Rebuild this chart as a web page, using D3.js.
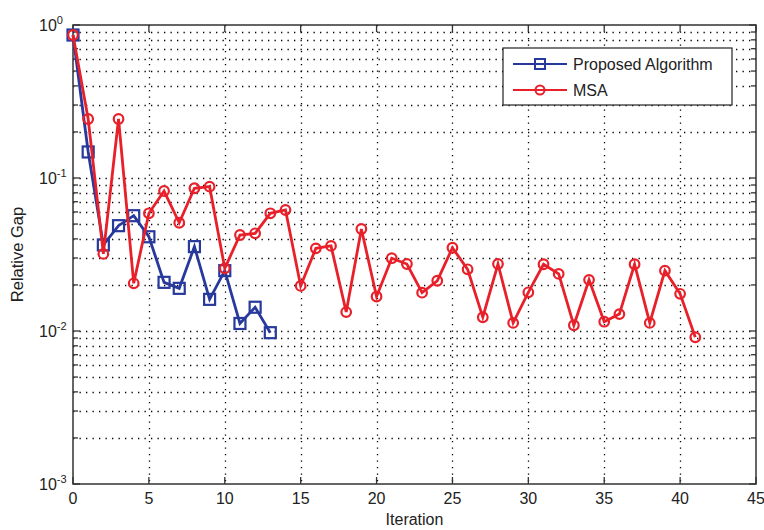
<!DOCTYPE html>
<html>
<meta charset="utf-8">
<script src="https://d3js.org/d3.v7.min.js"></script>
<style>
  body { margin: 0; background: #fff; }
  text { font-family: "Liberation Sans", Arial, sans-serif; fill: #222; }
</style>
<body>
<div id="chart"></div>
<script>
// relative gap per iteration (index = iteration number)
var proposed = [0.86, 0.148, 0.0365, 0.0488, 0.0567, 0.0413, 0.0208, 0.019, 0.0356,
                0.0161, 0.0248, 0.0112, 0.0143, 0.00975];
var msa = [0.86, 0.243, 0.0319, 0.243, 0.0205, 0.0588, 0.0822, 0.051, 0.0857, 0.0878,
           0.0257, 0.0424, 0.0435, 0.0588, 0.0618, 0.0197, 0.0347, 0.036, 0.0133, 0.0464,
           0.0168, 0.0299, 0.0274, 0.0178, 0.0213, 0.035, 0.0253, 0.0123, 0.0274, 0.0113,
           0.0179, 0.0273, 0.0236, 0.0109, 0.0216, 0.0115, 0.0129, 0.0273, 0.0113, 0.0248,
           0.0175, 0.0091];
var xTicks = [0, 5, 10, 15, 20, 25, 30, 35, 40, 45];
var yDecades = [-3, -2, -1, 0];
var seriesNames = ["Proposed Algorithm", "MSA"];

var W = 764, H = 530;
var margin = {top: 25, right: 8, bottom: 46, left: 73};
var width = W - margin.left - margin.right,
    height = H - margin.top - margin.bottom;

var svg = d3.select("#chart").append("svg")
    .attr("width", W).attr("height", H);
var g = svg.append("g")
    .attr("transform", "translate(" + margin.left + "," + margin.top + ")");

var x = d3.scaleLinear().domain([0, 45]).range([0, width]);
var y = d3.scaleLog().domain([1e-3, 1]).range([height, 0]);

// minor + major log positions
var yAll = [];
yDecades.forEach(function(d) {
  if (d < 0) for (var k = 1; k <= 9; k++) yAll.push(k * Math.pow(10, d));
});
yAll.push(1);

// grid
var grid = g.append("g")
    .attr("stroke", "#000").attr("stroke-width", 1.3)
    .attr("stroke-dasharray", "1.3,5.2");
grid.selectAll(".gy").data(yAll.filter(function(v){ return v > 1e-3 && v < 1; }))
  .enter().append("line")
    .attr("x1", 0).attr("x2", width)
    .attr("y1", function(d){ return Math.round(y(d)) + 0.5; })
    .attr("y2", function(d){ return Math.round(y(d)) + 0.5; });
grid.selectAll(".gx").data(xTicks.filter(function(v){ return v > 0 && v < 45; }))
  .enter().append("line")
    .attr("y1", 0).attr("y2", height)
    .attr("x1", function(d){ return Math.round(x(d)) + 0.5; })
    .attr("x2", function(d){ return Math.round(x(d)) + 0.5; });

// ticks (inside, on all four sides)
var ticks = g.append("g").attr("stroke", "#333").attr("stroke-width", 1.3);
xTicks.forEach(function(v) {
  var px = x(v);
  ticks.append("line").attr("x1", px).attr("x2", px).attr("y1", height).attr("y2", height - 7);
  ticks.append("line").attr("x1", px).attr("x2", px).attr("y1", 0).attr("y2", 7);
});
yAll.forEach(function(v) {
  var py = y(v);
  var major = Math.abs(Math.log10(v) - Math.round(Math.log10(v))) < 1e-9;
  var len = major ? 7 : 5;
  ticks.append("line").attr("x1", 0).attr("x2", len).attr("y1", py).attr("y2", py);
  ticks.append("line").attr("x1", width).attr("x2", width - len).attr("y1", py).attr("y2", py);
});

// frame
g.append("rect").attr("width", width).attr("height", height)
  .attr("fill", "none").attr("stroke", "#333").attr("stroke-width", 1.5);

// x tick labels
g.selectAll(".xl").data(xTicks).enter().append("text")
  .attr("x", function(d){ return x(d); })
  .attr("y", height + 20)
  .attr("text-anchor", "middle")
  .style("font-size", "16px")
  .text(function(d){ return d; });

// y tick labels 10^d
yDecades.forEach(function(d) {
  var py = y(Math.pow(10, d));
  var t = g.append("text")
    .attr("x", -34).attr("y", py + 6)
    .style("font-size", "16px");
  t.append("tspan").text("10");
  t.append("tspan").attr("dy", -7).style("font-size", "11px").text(d);
});

// axis titles
g.append("text")
  .attr("x", width / 2).attr("y", height + 41)
  .attr("text-anchor", "middle").style("font-size", "16px")
  .text("Iteration");
g.append("text")
  .attr("transform", "translate(" + (-50) + "," + (height / 2) + ") rotate(-90)")
  .attr("text-anchor", "middle").style("font-size", "16.5px")
  .text("Relative Gap");

var colors = ["#27399c", "#e8202a"];
var line = d3.line()
  .x(function(d, i){ return x(i); })
  .y(function(d){ return y(d); });

// Proposed algorithm
g.append("path").datum(proposed)
  .attr("d", line).attr("fill", "none")
  .attr("stroke", colors[0]).attr("stroke-width", 2.8);
g.selectAll(".sq").data(proposed).enter().append("rect")
  .attr("x", function(d, i){ return x(i) - 5.5; })
  .attr("y", function(d){ return y(d) - 5.5; })
  .attr("width", 11).attr("height", 11)
  .attr("fill", "none").attr("stroke", colors[0]).attr("stroke-width", 2.2);

// MSA
g.append("path").datum(msa)
  .attr("d", line).attr("fill", "none")
  .attr("stroke", colors[1]).attr("stroke-width", 2.8);
g.selectAll(".ci").data(msa).enter().append("circle")
  .attr("cx", function(d, i){ return x(i); })
  .attr("cy", function(d){ return y(d); })
  .attr("r", 4.8)
  .attr("fill", "none").attr("stroke", colors[1]).attr("stroke-width", 2.2);

// legend
var lg = svg.append("g").attr("transform", "translate(503,48)");
lg.append("rect").attr("width", 229).attr("height", 57)
  .attr("fill", "#fff").attr("stroke", "#222").attr("stroke-width", 1.2);
seriesNames.forEach(function(name, i) {
  var ly = 16 + i * 26;
  lg.append("line").attr("x1", 10).attr("x2", 64).attr("y1", ly).attr("y2", ly)
    .attr("stroke", colors[i]).attr("stroke-width", 2);
  if (i === 0) {
    lg.append("rect").attr("x", 32).attr("y", ly - 5).attr("width", 10).attr("height", 10)
      .attr("fill", "none").attr("stroke", colors[i]).attr("stroke-width", 2);
  } else {
    lg.append("circle").attr("cx", 37).attr("cy", ly).attr("r", 4.5)
      .attr("fill", "none").attr("stroke", colors[i]).attr("stroke-width", 2);
  }
  lg.append("text").attr("x", 70).attr("y", ly + 6)
    .style("font-size", "16px").text(name);
});
</script>
</body>
</html>
